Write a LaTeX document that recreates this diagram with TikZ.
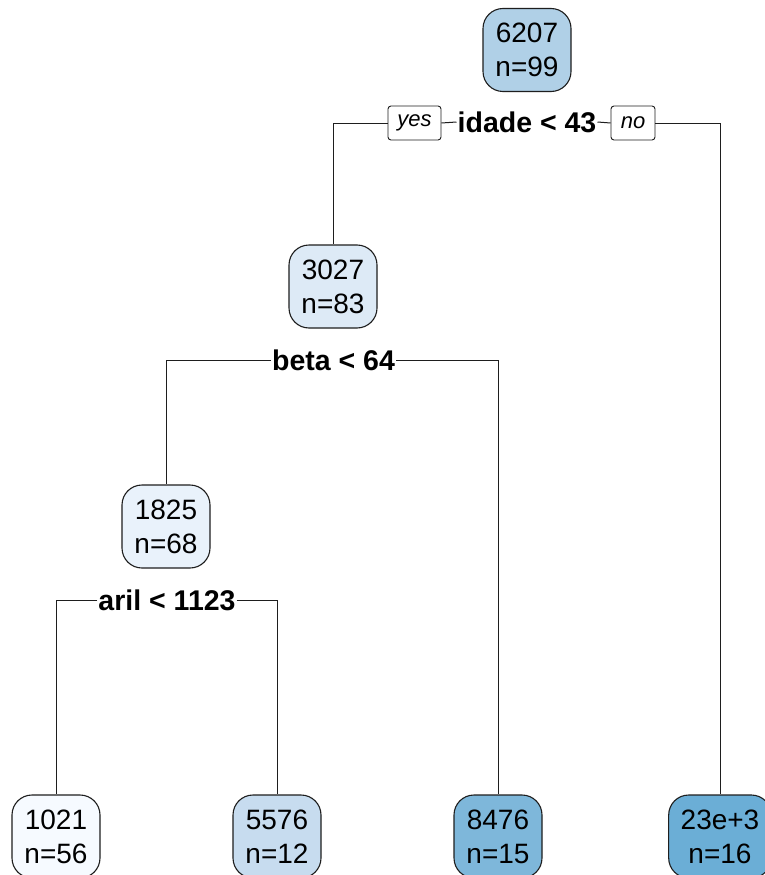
\documentclass[tikz,border=0pt]{standalone}
\usepackage{fontspec}
\setmainfont{Liberation Sans}
\definecolor{c6207}{RGB}{176,208,231}
\definecolor{c3027}{RGB}{221,234,246}
\definecolor{c1825}{RGB}{233,242,251}
\definecolor{c1021}{RGB}{246,250,255}
\definecolor{c5576}{RGB}{199,220,239}
\definecolor{c8476}{RGB}{126,183,218}
\definecolor{c23e3}{RGB}{107,174,214}
\definecolor{linec}{RGB}{30,30,30}
\begin{document}
\begin{tikzpicture}[x=1pt,y=-1pt,
  leaf/.style={draw=linec, line width=1.1pt, rounded corners=20pt, align=center,
    minimum width=88pt, minimum height=83pt, inner xsep=12pt,
    font=\fontsize{28}{34}\selectfont},
  splitlab/.style={font=\bfseries\fontsize{28.5}{32}\selectfont, inner xsep=1pt, inner ysep=2pt, fill=white},
  yn/.style={draw=linec, line width=0.9pt, rounded corners=3pt, fill=white,
    font=\itshape\fontsize{22}{24}\selectfont, minimum height=34pt, inner xsep=7pt},
  edge/.style={draw=linec, line width=1pt}]
\useasboundingbox (0,0) rectangle (764,875);
\fill[white] (0,0) rectangle (764,875);

% nodes
\node[leaf, fill=c6207] (n1) at (527,50) {6207\\n=99};
\node[leaf, fill=c3027] (n2) at (333,286.5) {3027\\n=83};
\node[leaf, fill=c1825] (n4) at (166,526.5) {1825\\n=68};
\node[leaf, fill=c1021] (n8) at (56,836.5) {1021\\n=56};
\node[leaf, fill=c5576] (n9) at (277,836.5) {5576\\n=12};
\node[leaf, fill=c8476] (n5) at (498,836.5) {8476\\n=15};
\node[leaf, fill=c23e3, minimum width=100pt] (n3) at (720,836.5) {23e+3\\n=16};

% split labels
\node[splitlab] (s1) at (527,122) {idade < 43};
\node[yn, minimum width=53pt] (yes) at (414.5,123) {yes};
\node[yn, minimum width=44pt] (no) at (633,123) {no};
\node[splitlab] (s2) at (333.5,360) {beta < 64};
\node[splitlab] (s4) at (167,600) {aril < 1123};

% connectors
\draw[edge] (yes.west) -| (n2.north);
\draw[edge] (yes.east) -- (s1.west);
\draw[edge] (s1.east) -- (no.west);
\draw[edge] (no.east) -| (n3.north);
\draw[edge] (s2.west) -| (n4.north);
\draw[edge] (s2.east) -| (n5.north);
\draw[edge] (s4.west) -| (n8.north);
\draw[edge] (s4.east) -| (n9.north);
\end{tikzpicture}
\end{document}
